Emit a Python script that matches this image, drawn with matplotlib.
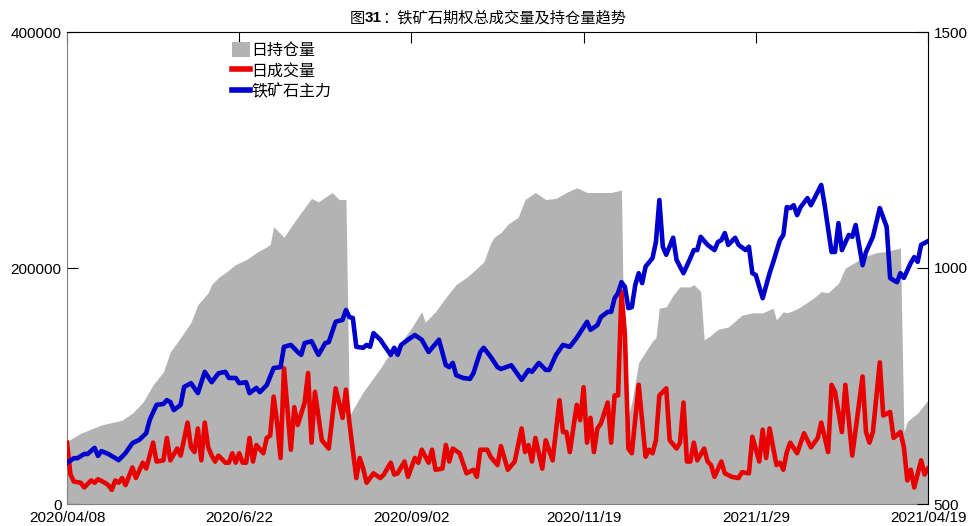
import numpy as np
import matplotlib
matplotlib.use("Agg")
import matplotlib.pyplot as plt
from matplotlib.patches import Patch
from matplotlib.lines import Line2D

# trading-day index (0 = 2020/04/08, 250 = 2021/04/19)
tick_days = [0, 50, 100, 150, 200, 250]
tick_labels = ["2020/04/08", "2020/6/22", "2020/09/02", "2020/11/19", "2021/1/29", "2021/04/19"]

# 日持仓量 (thousand contracts)
oi_day = [0, 4, 10, 16, 19, 22, 25, 28, 30, 33,
          36, 38, 41, 42, 44, 46, 49, 52, 55, 58,
          59, 60, 63, 66, 69, 71, 73, 77, 79, 81,
          82, 83, 86, 89, 91, 94, 97, 100, 103, 104,
          107, 110, 113, 116, 118, 121, 123, 124, 126, 128,
          131, 133, 136, 139, 142, 145, 148, 151, 154, 158,
          161, 162, 163, 164, 166, 168, 170, 171, 172, 174,
          176, 178, 181, 182, 184, 185, 187, 189, 192, 196,
          199, 202, 205, 206, 208, 209, 211, 213, 217, 219,
          221, 224, 226, 229, 231, 235, 238, 242, 243, 244,
          247, 250]
oi_k = [53, 60, 67, 71, 77, 86, 101, 112, 129, 141,
        154, 169, 179, 186, 192, 196, 203, 207, 213, 218,
        220, 235, 226, 239, 251, 259, 256, 264, 258, 258,
        74, 80, 95, 107, 115, 129, 137, 149, 163, 154,
        163, 175, 186, 192, 197, 205, 221, 226, 230, 237,
        243, 258, 264, 258, 259, 264, 268, 264, 264, 264,
        266, 72, 75, 86, 120, 129, 138, 141, 166, 167,
        177, 184, 184, 186, 180, 139, 143, 148, 150, 160,
        162, 162, 166, 156, 163, 162, 164, 167, 175, 180,
        179, 187, 200, 205, 209, 213, 214, 217, 61, 70,
        77, 88]

# 日成交量 (thousand contracts)
vol_day = [0, 1, 2, 4, 5, 7, 8, 9, 11, 12,
           13, 14, 15, 16, 17, 19, 20, 22, 23, 25,
           26, 28, 29, 30, 32, 33, 35, 36, 37, 38,
           39, 40, 41, 42, 43, 44, 46, 47, 48, 49,
           50, 51, 52, 53, 54, 55, 57, 58, 59, 60,
           61, 62, 63, 64, 65, 66, 67, 69, 70, 71,
           72, 74, 76, 78, 79, 80, 81, 82, 84, 85,
           86, 87, 89, 91, 92, 94, 95, 96, 98, 99,
           101, 102, 103, 105, 106, 107, 109, 110, 111, 112,
           114, 116, 118, 119, 120, 122, 123, 125, 126, 128,
           130, 132, 133, 134, 135, 136, 138, 139, 141, 143,
           144, 145, 146, 148, 149, 150, 151, 152, 153, 154,
           155, 157, 158, 159, 160, 161, 162, 163, 164, 166,
           167, 168, 169, 170, 171, 172, 174, 175, 177, 178,
           179, 180, 181, 182, 183, 185, 186, 187, 188, 190,
           191, 193, 195, 196, 198, 199, 201, 202, 203, 204,
           206, 207, 208, 209, 210, 212, 214, 216, 218, 219,
           221, 222, 223, 225, 226, 228, 231, 232, 233, 234,
           236, 237, 239, 240, 242, 243, 244, 245, 246, 248,
           249, 250]
vol_k = [52, 25, 19, 18, 14, 20, 18, 21, 18, 16,
         12, 20, 18, 22, 16, 31, 22, 35, 30, 52,
         36, 37, 56, 37, 47, 41, 69, 48, 44, 64,
         37, 69, 48, 41, 36, 41, 35, 35, 43, 35,
         43, 35, 35, 56, 36, 50, 43, 56, 58, 91,
         69, 39, 115, 81, 46, 82, 67, 86, 111, 52,
         95, 54, 47, 98, 86, 73, 97, 69, 22, 39,
         30, 18, 26, 22, 25, 35, 25, 26, 36, 23,
         39, 35, 46, 35, 46, 29, 30, 50, 36, 47,
         43, 26, 29, 23, 46, 46, 40, 33, 49, 29,
         36, 64, 44, 50, 36, 56, 30, 54, 37, 88,
         61, 61, 44, 84, 71, 99, 52, 73, 44, 64,
         68, 86, 52, 92, 92, 180, 143, 47, 43, 101,
         70, 40, 46, 43, 54, 92, 98, 54, 47, 52,
         86, 36, 36, 52, 37, 47, 36, 33, 23, 36,
         26, 23, 22, 27, 26, 57, 36, 63, 39, 64,
         33, 35, 29, 44, 52, 43, 60, 48, 56, 69,
         44, 101, 95, 61, 101, 41, 108, 61, 52, 61,
         120, 75, 78, 56, 61, 48, 20, 29, 14, 37,
         25, 30]

# 铁矿石主力 price
px_day = [0, 2, 3, 5, 6, 8, 9, 10, 12, 15,
          17, 19, 21, 23, 24, 26, 28, 29, 30, 31,
          33, 34, 36, 38, 40, 42, 44, 46, 47, 49,
          50, 52, 53, 55, 56, 58, 60, 62, 63, 65,
          67, 68, 69, 71, 73, 75, 76, 78, 80, 81,
          82, 83, 84, 86, 87, 88, 89, 91, 92, 94,
          95, 96, 97, 99, 101, 103, 105, 108, 110, 111,
          112, 113, 115, 117, 118, 120, 121, 123, 125, 126,
          129, 132, 134, 135, 137, 139, 140, 142, 144, 146,
          148, 151, 152, 154, 155, 157, 158, 159, 160, 161,
          162, 163, 164, 165, 166, 167, 168, 170, 171, 172,
          173, 174, 176, 177, 179, 181, 182, 183, 184, 186,
          188, 189, 190, 191, 192, 194, 195, 197, 198, 199,
          200, 202, 204, 205, 207, 208, 209, 210, 211, 212,
          213, 215, 216, 219, 220, 222, 223, 224, 225, 227,
          228, 229, 231, 232, 234, 236, 238, 239, 240, 241,
          242, 243, 245, 246, 247, 248, 250]
px_val = [587, 597, 597, 606, 606, 619, 602, 612, 606, 593,
          608, 629, 636, 650, 678, 710, 712, 720, 716, 699,
          710, 748, 756, 735, 780, 758, 777, 780, 767, 767,
          756, 758, 735, 746, 737, 752, 788, 790, 833, 837,
          822, 816, 841, 845, 816, 841, 843, 886, 890, 911,
          896, 894, 833, 831, 837, 833, 862, 848, 837, 816,
          831, 816, 837, 848, 858, 848, 822, 848, 794, 790,
          799, 773, 767, 765, 777, 822, 831, 812, 790, 786,
          794, 763, 784, 780, 799, 784, 784, 816, 837, 833,
          852, 886, 869, 879, 896, 907, 907, 936, 947, 970,
          960, 915, 917, 964, 989, 968, 1003, 1021, 1055, 1144,
          1045, 1028, 1064, 1017, 989, 1021, 1038, 1038, 1066, 1049,
          1038, 1055, 1059, 1074, 1049, 1064, 1049, 1038, 1045, 989,
          985, 936, 989, 1011, 1059, 1070, 1129, 1127, 1133, 1112,
          1129, 1148, 1133, 1176, 1133, 1034, 1034, 1095, 1038, 1070,
          1066, 1091, 1006, 1034, 1066, 1127, 1087, 979, 974, 970,
          989, 979, 1011, 1023, 1013, 1049, 1057]

GRAY, RED, BLUE = "#b3b3b3", "#e80000", "#0000cc"
SPINE_GRAY = "#808080"
CJK = ["Noto Sans CJK SC", "DejaVu Sans"]
plt.rcParams["font.family"] = ["Liberation Sans", "Noto Sans CJK SC", "DejaVu Sans"]

W, H = 969, 526
fig = plt.figure(figsize=(W / 100, H / 100), dpi=100)
ax = fig.add_axes([67 / W, 22 / H, 861 / W, 472 / H])

ax.fill_between(oi_day, np.array(oi_k) * 1000, color=GRAY, linewidth=0, zorder=1)
ax.plot(vol_day, np.array(vol_k) * 1000, color=RED, linewidth=3.3, zorder=3)
ax.set_xlim(0, 250)
ax.set_ylim(0, 400000)
ax.set_yticks([0, 200000, 400000])
ax.set_yticklabels(["0", "200000", "400000"])
ax.set_xticks(tick_days)
ax.set_xticklabels(tick_labels)

ax2 = ax.twinx()
ax2.plot(px_day, px_val, color=BLUE, linewidth=3.3, zorder=3)
ax2.set_ylim(500, 1500)
ax2.set_yticks([500, 1000, 1500])

ax.tick_params(axis="y", direction="in", length=8, width=0.8, color="black",
               labelsize=11, pad=4)
ax.tick_params(axis="x", direction="in", length=8, width=0.8, color="black",
               bottom=False, top=True, labelbottom=True, labelsize=11, pad=5)
ax2.tick_params(axis="y", direction="in", length=8, width=0.8, color="black",
                labelsize=11, pad=4)

for s in ("left", "bottom"):
    ax.spines[s].set_color(SPINE_GRAY)
ax.spines["top"].set_color("black")
ax.spines["right"].set_visible(False)
for s in ("left", "bottom", "top"):
    ax2.spines[s].set_visible(False)
ax2.spines["right"].set_color("black")
for a in (ax, ax2):
    for sp in a.spines.values():
        sp.set_linewidth(0.8)

handles = [Patch(facecolor=GRAY, edgecolor="none"),
           Line2D([], [], color=RED, linewidth=4),
           Line2D([], [], color=BLUE, linewidth=4)]
ax2.legend(handles, ["日持仓量", "日成交量", "铁矿石主力"], loc="upper left",
           bbox_to_anchor=((232 - 67) / 861, (504 - 42) / 472), frameon=False,
           prop={"family": CJK, "size": 11.5}, borderpad=0, borderaxespad=0,
           handlelength=1.1, handleheight=1.05, handletextpad=0.12,
           labelspacing=0.22)

# title with bold "31"
r = fig.canvas.get_renderer()
parts = [("图", CJK, "normal"), ("31", ["Liberation Sans"], "bold"),
         ("：铁矿石期权总成交量及持仓量趋势", CJK, "normal")]
texts = [fig.text(0, 1 - 18 / H, s, fontsize=11, family=f, fontweight=w, va="center")
         for s, f, w in parts]
widths = [t.get_window_extent(r).width for t in texts]
x = 488 - sum(widths) / 2
for t, w in zip(texts, widths):
    t.set_x(x / W)
    x += w

fig.savefig("out.png", dpi=100, facecolor="white")
